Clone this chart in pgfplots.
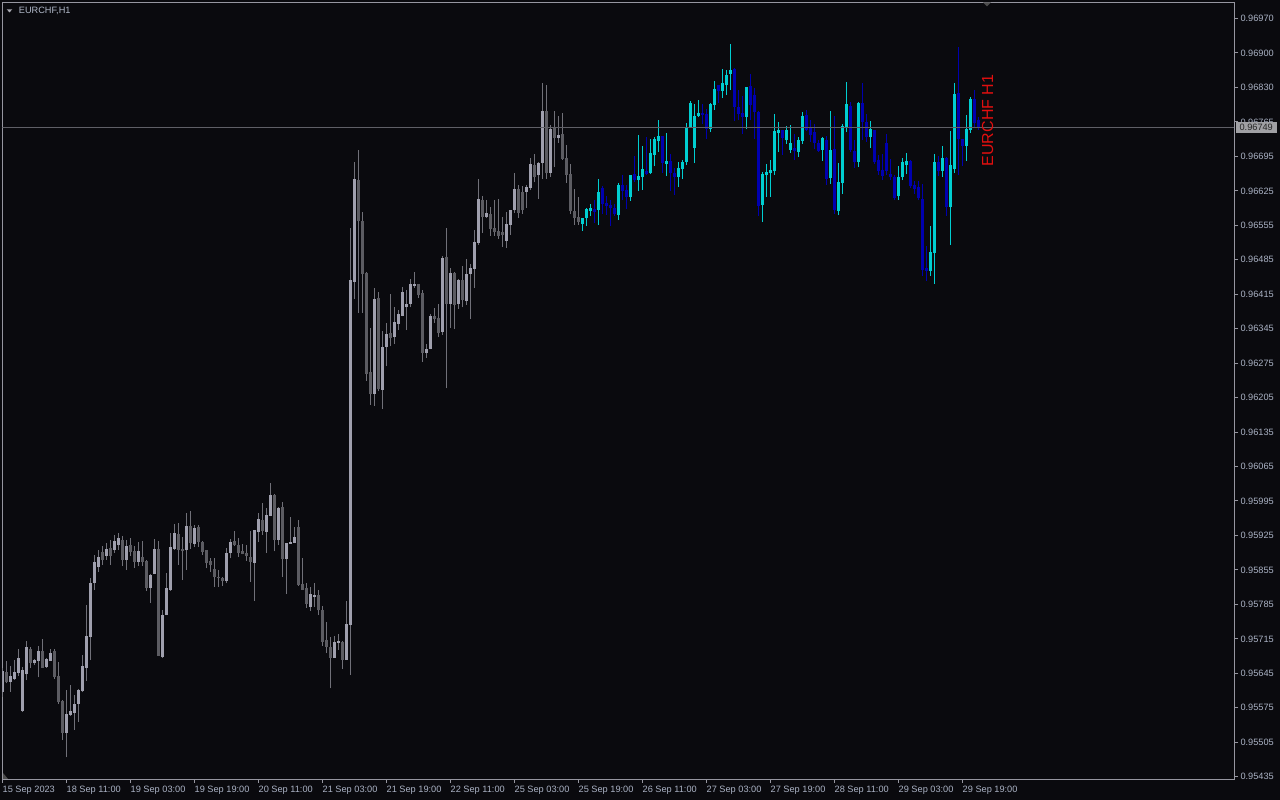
\documentclass[border=0pt]{standalone}
\usepackage{pgfplots}
\pgfplotsset{compat=1.18}
\usepackage{pgfplotstable}
\usepackage{fontspec}
\setmainfont{Liberation Sans}
\definecolor{bg}{RGB}{10,10,14}
\definecolor{axcol}{RGB}{150,150,160}
\definecolor{labcol}{RGB}{170,178,196}
\definecolor{gup}{RGB}{160,160,174}
\definecolor{gdn}{RGB}{92,92,98}
\definecolor{gwick}{RGB}{112,112,120}
\definecolor{cup}{RGB}{0,206,209}
\definecolor{cdn}{RGB}{0,0,175}
\definecolor{pline}{RGB}{95,95,102}
\definecolor{pbox}{RGB}{160,160,164}
\definecolor{redtxt}{RGB}{225,15,15}

% grey candles, bullish
\pgfplotstableread{
i o h l c
0 0.95607 0.95655 0.95596 0.95650
2 0.95627 0.95660 0.95607 0.95639
3 0.95633 0.95671 0.95631 0.95648
4 0.95646 0.95693 0.95639 0.95676
5 0.95569 0.95657 0.95566 0.95652
6 0.95642 0.95710 0.95630 0.95698
8 0.95665 0.95673 0.95661 0.95671
9 0.95670 0.95700 0.95636 0.95690
11 0.95658 0.95675 0.95656 0.95673
12 0.95670 0.95693 0.95669 0.95686
16 0.95524 0.95611 0.95474 0.95562
17 0.95560 0.95621 0.95558 0.95568
18 0.95565 0.95601 0.95530 0.95582
19 0.95583 0.95613 0.95546 0.95611
20 0.95608 0.95682 0.95606 0.95659
21 0.95656 0.95783 0.95629 0.95720
22 0.95718 0.95837 0.95671 0.95827
23 0.95827 0.95884 0.95813 0.95870
24 0.95860 0.95894 0.95850 0.95880
26 0.95882 0.95908 0.95874 0.95896
28 0.95894 0.95924 0.95888 0.95912
29 0.95904 0.95928 0.95894 0.95918
31 0.95874 0.95914 0.95854 0.95902
34 0.95870 0.95910 0.95862 0.95892
37 0.95818 0.95845 0.95787 0.95843
38 0.95846 0.95916 0.95845 0.95896
40 0.95677 0.95773 0.95675 0.95762
41 0.95763 0.95847 0.95762 0.95817
42 0.95814 0.95929 0.95812 0.95900
43 0.95896 0.95947 0.95895 0.95928
46 0.95893 0.95968 0.95854 0.95943
48 0.95907 0.95945 0.95900 0.95939
56 0.95831 0.95899 0.95827 0.95888
57 0.95887 0.95916 0.95877 0.95911
63 0.95868 0.95935 0.95791 0.95934
64 0.95930 0.95968 0.95911 0.95957
66 0.95931 0.95980 0.95888 0.95965
67 0.95963 0.96030 0.95962 0.96006
69 0.95914 0.95981 0.95904 0.95980
71 0.95876 0.95909 0.95805 0.95908
72 0.95907 0.95961 0.95906 0.95910
73 0.95909 0.95940 0.95908 0.95920
77 0.95779 0.95820 0.95770 0.95805
78 0.95799 0.95827 0.95779 0.95802
83 0.95676 0.95720 0.95675 0.95708
84 0.95706 0.95724 0.95692 0.95709
86 0.95672 0.95791 0.95671 0.95744
87 0.95742 0.96545 0.95641 0.96441
88 0.96437 0.96680 0.96402 0.96645
93 0.96210 0.96424 0.96186 0.96402
95 0.96218 0.96337 0.96179 0.96305
96 0.96305 0.96354 0.96267 0.96331
98 0.96325 0.96385 0.96311 0.96356
99 0.96352 0.96380 0.96339 0.96372
100 0.96368 0.96426 0.96367 0.96416
101 0.96385 0.96421 0.96339 0.96392
102 0.96392 0.96442 0.96385 0.96432
103 0.96428 0.96457 0.96424 0.96432
106 0.96293 0.96311 0.96283 0.96301
107 0.96301 0.96372 0.96300 0.96368
110 0.96336 0.96489 0.96330 0.96485
112 0.96392 0.96465 0.96344 0.96455
114 0.96392 0.96442 0.96382 0.96441
116 0.96398 0.96483 0.96390 0.96453
117 0.96453 0.96473 0.96362 0.96465
118 0.96463 0.96542 0.96424 0.96518
119 0.96516 0.96645 0.96512 0.96605
121 0.96568 0.96603 0.96566 0.96576
126 0.96520 0.96578 0.96505 0.96554
127 0.96552 0.96583 0.96532 0.96582
128 0.96582 0.96657 0.96576 0.96625
131 0.96619 0.96633 0.96586 0.96629
132 0.96627 0.96688 0.96623 0.96675
134 0.96653 0.96679 0.96605 0.96677
135 0.96677 0.96839 0.96645 0.96783
137 0.96657 0.96754 0.96649 0.96746
139 0.96728 0.96773 0.96718 0.96734
}\greyup

% grey candles, bearish
\pgfplotstableread{
i o h l c
1 0.95648 0.95670 0.95624 0.95626
7 0.95694 0.95698 0.95655 0.95666
10 0.95690 0.95713 0.95655 0.95656
13 0.95690 0.95693 0.95633 0.95637
14 0.95639 0.95667 0.95582 0.95587
15 0.95588 0.95590 0.95509 0.95524
25 0.95890 0.95902 0.95864 0.95874
27 0.95898 0.95914 0.95864 0.95882
30 0.95914 0.95922 0.95862 0.95874
32 0.95904 0.95918 0.95882 0.95890
33 0.95892 0.95902 0.95858 0.95870
35 0.95879 0.95912 0.95862 0.95870
36 0.95872 0.95874 0.95812 0.95818
39 0.95896 0.95912 0.95679 0.95680
44 0.95926 0.95949 0.95864 0.95894
45 0.95897 0.95921 0.95833 0.95891
47 0.95943 0.95972 0.95897 0.95908
49 0.95941 0.95945 0.95901 0.95911
50 0.95910 0.95912 0.95884 0.95890
51 0.95893 0.95894 0.95857 0.95868
52 0.95872 0.95878 0.95850 0.95864
53 0.95856 0.95878 0.95820 0.95839
54 0.95840 0.95854 0.95820 0.95837
55 0.95838 0.95840 0.95822 0.95831
58 0.95913 0.95932 0.95903 0.95904
59 0.95904 0.95918 0.95880 0.95888
60 0.95891 0.95906 0.95885 0.95886
61 0.95888 0.95904 0.95872 0.95882
62 0.95880 0.95932 0.95830 0.95870
65 0.95955 0.95990 0.95924 0.95932
68 0.96006 0.96008 0.95891 0.95914
70 0.95981 0.95991 0.95839 0.95876
74 0.95941 0.95955 0.95822 0.95823
75 0.95825 0.95877 0.95813 0.95814
76 0.95818 0.95827 0.95777 0.95785
79 0.95802 0.95813 0.95762 0.95772
80 0.95773 0.95781 0.95700 0.95708
81 0.95712 0.95748 0.95685 0.95698
82 0.95698 0.95718 0.95614 0.95676
85 0.95708 0.95709 0.95653 0.95672
89 0.96643 0.96704 0.96374 0.96561
90 0.96560 0.96579 0.96374 0.96453
91 0.96455 0.96456 0.96237 0.96251
92 0.96254 0.96344 0.96188 0.96210
94 0.96404 0.96416 0.96215 0.96219
97 0.96333 0.96412 0.96306 0.96323
104 0.96432 0.96433 0.96405 0.96410
105 0.96414 0.96420 0.96275 0.96293
108 0.96368 0.96384 0.96354 0.96362
109 0.96364 0.96392 0.96326 0.96334
111 0.96487 0.96545 0.96221 0.96392
113 0.96455 0.96456 0.96341 0.96390
115 0.96441 0.96469 0.96385 0.96400
120 0.96603 0.96611 0.96536 0.96568
122 0.96574 0.96588 0.96530 0.96544
123 0.96546 0.96603 0.96530 0.96538
124 0.96540 0.96605 0.96524 0.96530
125 0.96538 0.96568 0.96507 0.96532
129 0.96625 0.96633 0.96566 0.96576
130 0.96619 0.96631 0.96574 0.96582
133 0.96673 0.96696 0.96638 0.96649
136 0.96783 0.96835 0.96645 0.96657
138 0.96748 0.96783 0.96669 0.96728
140 0.96736 0.96779 0.96684 0.96686
141 0.96688 0.96714 0.96637 0.96653
142 0.96655 0.96675 0.96574 0.96580
143 0.96580 0.96625 0.96552 0.96566
144 0.96568 0.96609 0.96552 0.96558
}\greydown

% coloured candles, bullish
\pgfplotstableread{
i o h l c
145 0.96554 0.96567 0.96540 0.96566
146 0.96566 0.96586 0.96550 0.96584
147 0.96581 0.96595 0.96570 0.96587
149 0.96582 0.96645 0.96552 0.96619
154 0.96572 0.96637 0.96562 0.96633
157 0.96609 0.96654 0.96601 0.96653
159 0.96643 0.96734 0.96621 0.96651
160 0.96649 0.96712 0.96623 0.96665
162 0.96657 0.96726 0.96655 0.96698
163 0.96694 0.96730 0.96671 0.96726
164 0.96722 0.96765 0.96700 0.96732
166 0.96675 0.96738 0.96651 0.96682
169 0.96649 0.96679 0.96629 0.96667
170 0.96665 0.96684 0.96645 0.96679
171 0.96679 0.96758 0.96673 0.96750
172 0.96750 0.96803 0.96749 0.96799
173 0.96708 0.96797 0.96677 0.96773
174 0.96773 0.96805 0.96771 0.96779
177 0.96746 0.96799 0.96740 0.96797
178 0.96795 0.96844 0.96785 0.96827
180 0.96823 0.96868 0.96809 0.96839
181 0.96835 0.96866 0.96815 0.96856
182 0.96858 0.96918 0.96825 0.96866
186 0.96771 0.96832 0.96746 0.96831
190 0.96593 0.96659 0.96558 0.96655
191 0.96653 0.96675 0.96609 0.96659
192 0.96657 0.96684 0.96609 0.96663
193 0.96661 0.96777 0.96653 0.96742
194 0.96738 0.96760 0.96700 0.96744
196 0.96724 0.96752 0.96716 0.96744
197 0.96704 0.96754 0.96698 0.96718
199 0.96700 0.96730 0.96690 0.96724
200 0.96722 0.96781 0.96716 0.96773
205 0.96704 0.96730 0.96682 0.96728
207 0.96647 0.96783 0.96635 0.96704
209 0.96580 0.96677 0.96572 0.96639
210 0.96637 0.96757 0.96615 0.96752
211 0.96748 0.96841 0.96740 0.96797
214 0.96680 0.96801 0.96669 0.96799
217 0.96730 0.96762 0.96708 0.96746
224 0.96611 0.96671 0.96603 0.96649
225 0.96649 0.96688 0.96643 0.96679
226 0.96673 0.96698 0.96655 0.96682
232 0.96459 0.96550 0.96449 0.96497
233 0.96495 0.96696 0.96433 0.96680
235 0.96661 0.96712 0.96649 0.96688
237 0.96588 0.96742 0.96512 0.96673
238 0.96665 0.96839 0.96657 0.96817
241 0.96712 0.96775 0.96682 0.96746
242 0.96744 0.96811 0.96738 0.96807
}\colup

% coloured candles, bearish
\pgfplotstableread{
i o h l c
148 0.96584 0.96603 0.96556 0.96578
150 0.96627 0.96631 0.96574 0.96595
151 0.96597 0.96611 0.96572 0.96590
152 0.96593 0.96603 0.96550 0.96586
153 0.96586 0.96595 0.96571 0.96574
155 0.96633 0.96653 0.96603 0.96621
156 0.96623 0.96633 0.96584 0.96609
158 0.96655 0.96692 0.96639 0.96643
161 0.96661 0.96730 0.96654 0.96655
165 0.96732 0.96733 0.96657 0.96677
167 0.96682 0.96696 0.96621 0.96657
168 0.96657 0.96667 0.96613 0.96649
175 0.96779 0.96797 0.96757 0.96775
176 0.96777 0.96787 0.96726 0.96746
179 0.96835 0.96836 0.96799 0.96823
183 0.96868 0.96869 0.96763 0.96791
184 0.96791 0.96825 0.96765 0.96777
185 0.96779 0.96813 0.96736 0.96771
187 0.96833 0.96858 0.96765 0.96795
188 0.96815 0.96829 0.96726 0.96781
189 0.96781 0.96782 0.96570 0.96590
195 0.96744 0.96745 0.96694 0.96728
198 0.96708 0.96736 0.96684 0.96702
201 0.96775 0.96785 0.96742 0.96744
202 0.96748 0.96765 0.96720 0.96734
203 0.96740 0.96757 0.96706 0.96718
204 0.96718 0.96724 0.96700 0.96702
206 0.96724 0.96732 0.96633 0.96645
208 0.96706 0.96773 0.96574 0.96582
212 0.96793 0.96801 0.96700 0.96704
213 0.96702 0.96724 0.96667 0.96680
215 0.96799 0.96839 0.96724 0.96760
216 0.96760 0.96777 0.96720 0.96730
218 0.96744 0.96745 0.96675 0.96680
219 0.96684 0.96694 0.96653 0.96661
220 0.96663 0.96696 0.96643 0.96651
221 0.96718 0.96736 0.96653 0.96661
222 0.96655 0.96686 0.96643 0.96649
223 0.96649 0.96653 0.96603 0.96607
227 0.96682 0.96683 0.96627 0.96631
228 0.96633 0.96641 0.96615 0.96625
229 0.96629 0.96641 0.96603 0.96607
230 0.96605 0.96635 0.96449 0.96461
231 0.96465 0.96510 0.96439 0.96459
234 0.96680 0.96692 0.96651 0.96661
236 0.96688 0.96689 0.96570 0.96588
239 0.96819 0.96912 0.96653 0.96726
240 0.96726 0.96727 0.96671 0.96712
243 0.96807 0.96825 0.96750 0.96758
244 0.96765 0.96770 0.96745 0.96749
}\coldown

\pgfplotsset{
  wick/.style={draw=none, mark=none, forget plot,
    error bars/.cd, y dir=plus, y explicit, error mark=none,
    error bar style={draw=#1, line width=1bp}},
  body/.style={draw=none, mark=none, forget plot,
    error bars/.cd, y dir=plus, y explicit, error mark=none,
    error bar style={draw=#1, line width=3bp}},
}
% #1 table, #2 wick colour, #3 body colour, #4 body bottom column, #5 body top column
\newcommand{\candles}[5]{%
  \addplot[wick=#2] table[x=i, y=l, y error plus expr={\thisrow{h}-\thisrow{l}}] {#1};
  \addplot[body=#3] table[x=i, y=#4, y error plus expr={\thisrow{#5}-\thisrow{#4}}] {#1};
}

\begin{document}
\begin{tikzpicture}
\useasboundingbox (0,0) rectangle (1280bp,800bp);
\fill[bg] (0,0) rectangle (1280bp,800bp);
\begin{axis}[
  at={(2.3bp,21bp)}, anchor=south west,
  scale only axis, width=1232bp, height=776.7bp,
  xmin=-0.05, xmax=307.95, ymin=0.954304, ymax=0.970028,
  axis line style={draw=axcol, line width=1bp},
  tick style={draw=axcol, line width=1bp},
  major tick length=4bp, tick align=outside,
  xtick pos=left, ytick pos=right, yticklabel pos=right,
  xtick={0,16,...,240},
  xticklabels={15 Sep 2023, 18 Sep 11:00, 19 Sep 03:00, 19 Sep 19:00, 20 Sep 11:00, 21 Sep 03:00, 21 Sep 19:00, 22 Sep 11:00, 25 Sep 03:00, 25 Sep 19:00, 26 Sep 11:00, 27 Sep 03:00, 27 Sep 19:00, 28 Sep 11:00, 29 Sep 03:00, 29 Sep 19:00},
  ytick={0.954350,0.955048,0.955745,0.956443,0.957141,0.957839,0.958536,0.959234,0.959932,0.960630,0.961327,0.962025,0.962723,0.963420,0.964118,0.964816,0.965514,0.966211,0.966909,0.967607,0.968305,0.969002,0.969700},
  yticklabels={0.95435,0.95505,0.95575,0.95645,0.95715,0.95785,0.95855,0.95925,0.95995,0.96065,0.96135,0.96205,0.96275,0.96345,0.96415,0.96485,0.96555,0.96625,0.96695,0.96765,0.96830,0.96900,0.96970},
  ticklabel style={font=\fontsize{9.2bp}{10bp}\selectfont, text=labcol, inner sep=0pt},
  xticklabel style={anchor=north west, yshift=-2.5bp},
  yticklabel style={anchor=west, xshift=2bp},
  scaled y ticks=false,
]
\candles{\greyup}{gwick}{gup}{o}{c}
\candles{\greydown}{gwick}{gdn}{c}{o}
\candles{\colup}{cup}{cup}{o}{c}
\candles{\coldown}{cdn}{cdn}{c}{o}
\addplot[pline, line width=1bp, forget plot] coordinates {(-0.05,0.96749) (307.95,0.96749)};
\coordinate (cp) at (axis cs:307.95,0.96749);
\end{axis}
\node[fill=pbox, text=black!85, anchor=west, inner sep=0pt, minimum width=41.4bp, minimum height=10.4bp, font=\fontsize{9.2bp}{10bp}\selectfont] at ([xshift=1bp]cp) {0.96749};
% header and markers
\fill[axcol!80] (6.7bp,790.7bp) -- (12.3bp,790.7bp) -- (9.5bp,787.6bp) -- cycle;
\node[anchor=west, inner sep=0pt, text=labcol!90!white, font=\fontsize{9.2bp}{10bp}\selectfont] at (18.7bp,789.3bp) {EURCHF,H1};
\fill[gray!60!black] (983bp,797.7bp) -- (991bp,797.7bp) -- (987bp,793.5bp) -- cycle;
\fill[gray!60!black] (3bp,21bp) -- (3bp,27bp) -- (8bp,21bp) -- cycle;
\node[rotate=90, text=redtxt, inner sep=0pt, font=\fontsize{16bp}{16bp}\selectfont] at (987.5bp,679.5bp) {EURCHF H1};
\end{tikzpicture}
\end{document}
